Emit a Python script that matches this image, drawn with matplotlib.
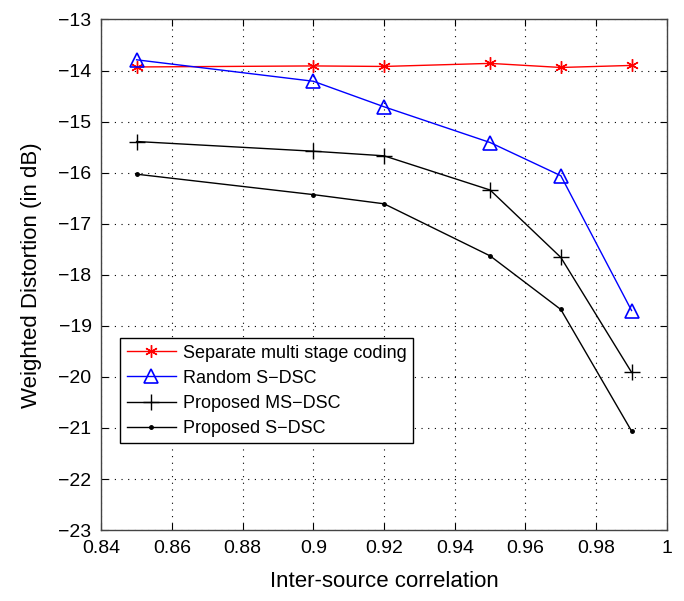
import matplotlib
matplotlib.use("Agg")
import matplotlib.pyplot as plt

plt.rcParams['font.family'] = ['Liberation Sans', 'DejaVu Sans']

x = [0.85, 0.90, 0.92, 0.95, 0.97, 0.99]
separate_msc = [-13.93, -13.91, -13.92, -13.86, -13.94, -13.90]
random_sdsc = [-13.79, -14.21, -14.71, -15.41, -16.06, -18.70]
proposed_msdsc = [-15.39, -15.58, -15.67, -16.34, -17.66, -19.91]
proposed_sdsc = [-16.03, -16.43, -16.61, -17.63, -18.68, -21.06]

labels = ["Separate multi stage coding", "Random S\u2212DSC",
          "Proposed MS\u2212DSC", "Proposed S\u2212DSC"]
xticks = [0.84, 0.86, 0.88, 0.9, 0.92, 0.94, 0.96, 0.98, 1.0]
xticklabels = ["0.84", "0.86", "0.88", "0.9", "0.92", "0.94", "0.96", "0.98", "1"]
yticks = list(range(-23, -12))

fig = plt.figure(figsize=(6.84, 6.01), dpi=100)
ax = fig.add_axes([0.148, 0.118, 0.827, 0.8496])

ax.plot(x, separate_msc, color='#ff0000', lw=1.0, marker=(6, 2, 0), ms=9, mew=1.0,
        label=labels[0])
ax.plot(x, random_sdsc, color='#0000ff', lw=1.0, marker='^', ms=10, mfc='none', mew=1.2,
        label=labels[1])
ax.plot(x, proposed_msdsc, color='black', lw=1.0, marker='+', ms=11, mew=1.0,
        label=labels[2])
ax.plot(x, proposed_sdsc, color='black', lw=1.0, marker='.', ms=5,
        label=labels[3])

ax.set_xlim(0.84, 1.0)
ax.set_ylim(-23, -13)
ax.set_xticks(xticks)
ax.set_xticklabels(xticklabels)
ax.set_yticks(yticks)
ax.set_yticklabels([f"\u2212{abs(v)}" for v in yticks])
ax.tick_params(direction='in', top=True, right=True, labelsize=14, length=5, pad=7)
ax.grid(True, linestyle=(0, (1, 5)), color='black', lw=0.8)
for s in ax.spines.values():
    s.set_color('#444444')
    s.set_linewidth(1.0)

ax.set_xlabel("Inter-source correlation", fontsize=16, labelpad=10)
ax.set_ylabel("Weighted Distortion (in dB)", fontsize=16, labelpad=12)

leg = ax.legend(loc='lower left', bbox_to_anchor=(0.034, 0.17), fontsize=13,
                handlelength=2.7, fancybox=False, framealpha=1, edgecolor='black',
                borderpad=0.35, labelspacing=0.45, handletextpad=0.4, borderaxespad=0)
leg.get_frame().set_linewidth(1.0)

fig.savefig("out.png", dpi=100)
